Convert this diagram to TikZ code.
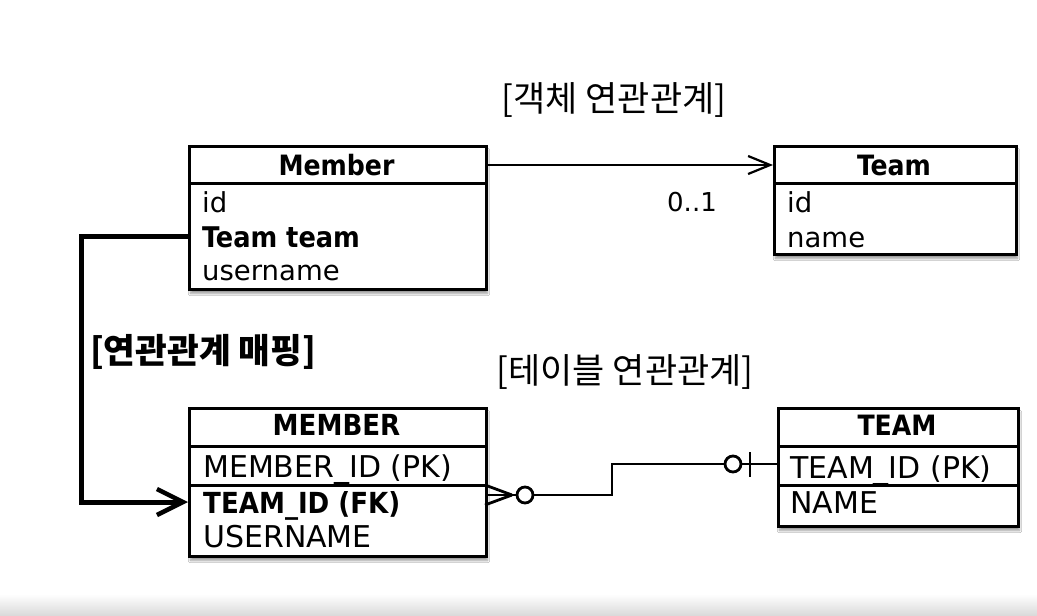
\documentclass[tikz,border=0pt]{standalone}
\usepackage{fontspec}
\setmainfont{DejaVu Sans}
\newfontfamily\cond{DejaVu Sans Condensed}
\newfontfamily\kr{Noto Sans CJK KR}
\usetikzlibrary{arrows.meta,shadows.blur}
\tikzset{
  tbl/.style={draw, line width=3pt, fill=white, anchor=north west, inner sep=0pt,
    blur shadow={shadow xshift=1pt, shadow yshift=-4pt, shadow blur steps=8, shadow opacity=40}},
  hdr/.style={font=\cond\bfseries\fontsize{28}{28}\selectfont, anchor=base, inner sep=0pt},
  rowA/.style={font=\fontsize{27.5}{27.5}\selectfont, anchor=base west, inner sep=0pt},
  rowB/.style={font=\fontsize{30}{30}\selectfont, anchor=base west, inner sep=0pt},
  divl/.style={line width=3pt},
  lbl/.style={font=\kr\fontsize{35}{35}\selectfont, inner sep=0pt},
  erd/.style={line width=2.8pt},
  ring/.style={circle, draw, line width=2.8pt, minimum size=16pt, inner sep=0pt, fill=white},
}
\begin{document}
\begin{tikzpicture}[x=1pt,y=-1pt]
\useasboundingbox (0,0) rectangle (1037,616);
\fill[white] (0,0) rectangle (1037,616);

% ---------- Member (object) ----------
\node[tbl, minimum width=297pt, minimum height=143pt] (Member) at (188,145) {};
\coordinate (MemberDiv) at (188,183);
\draw[divl] (MemberDiv) -- (MemberDiv -| Member.east);
\node[hdr] (MemberH) at (336.5,175) {Member};
\node[rowA] (Mid) at (202,212) {id};
\node[rowA, font=\cond\bfseries\fontsize{28.5}{28.5}\selectfont] (Mteam) at (202,247) {Team team};
\node[rowA] (Muser) at (202,280) {username};

% ---------- Team (object) ----------
\node[tbl, minimum width=242pt, minimum height=108pt] (Team) at (773,145) {};
\coordinate (TeamDiv) at (773,183);
\draw[divl] (TeamDiv) -- (TeamDiv -| Team.east);
\node[hdr] (TeamH) at (894,175) {Team};
\node[rowA] (Tid) at (787,212) {id};
\node[rowA] (Tname) at (787,247) {name};

% ---------- MEMBER (table) ----------
\node[tbl, minimum width=297pt, minimum height=148pt] (MEMBER) at (188,407) {};
\coordinate (MD1) at (188,446);
\coordinate (MD2) at (188,485);
\draw[divl] (MD1) -- (MD1 -| MEMBER.east);
\draw[divl] (MD2) -- (MD2 -| MEMBER.east);
\node[hdr, font=\cond\bfseries\fontsize{29}{29}\selectfont] (MEMBERH) at (336.5,435) {MEMBER};
\node[rowB] (MEid) at (203,477) {MEMBER\_ID (PK)};
\node[rowB, font=\cond\bfseries\fontsize{29}{29}\selectfont] (MEfk) at (203,513) {TEAM\_ID (FK)};
\node[rowB] (MEuser) at (203,547) {USERNAME};

% ---------- TEAM (table) ----------
\node[tbl, minimum width=240pt, minimum height=118pt] (TEAM) at (777,407) {};
\coordinate (TD1) at (777,446);
\coordinate (TD2) at (777,485);
\draw[divl] (TD1) -- (TD1 -| TEAM.east);
\draw[divl] (TD2) -- (TD2 -| TEAM.east);
\node[hdr] (TEAMH) at (897,435) {TEAM};
\node[rowB] (TEid) at (790,478) {TEAM\_ID (PK)};
\node[rowB] (TEname) at (790,513) {NAME};

% ---------- labels ----------
\node[lbl] (L1) at (614,100) {[객체 연관관계]};
\node[lbl, font=\kr\bfseries\fontsize{34.5}{34.5}\selectfont] (L2) at (203,352) {[연관관계 매핑]};
\node[lbl] (L3) at (625,372) {[테이블 연관관계]};
\node[font=\fontsize{26}{26}\selectfont, inner sep=0pt] (card) at (692,202) {0..1};

% ---------- object association arrow ----------
\coordinate (A1) at (485,165);
\draw[line width=2pt, -{Straight Barb[length=22pt,width=18pt,line width=2.2pt]}]
  (A1) -- (A1 -| Team.west);

% ---------- mapping arrow ----------
\coordinate (B1) at (188,236);
\coordinate (B2) at (188,502);
\draw[line width=5pt, line join=miter, -{Straight Barb[length=26pt,width=26pt,line width=4.5pt]}]
  (B1) -- (81,236) -- (81,502) -- (B2);

% ---------- ERD relation ----------
\coordinate (CF) at (512,495);
\node[ring] (R1) at (525,495) {};
\node[ring] (R2) at (733,464) {};
\coordinate (TEin) at (777,464);
\draw[erd] (485,485) -- (CF);
\draw[erd] (485,495) -- (R1.west);
\draw[erd] (485,505) -- (CF);
\draw[erd] (R1.east) -- (612,495) |- (R2.west);
\draw[erd] (R2.east) -- (TEin);
\draw[erd] (750,452) -- (750,477);

% bottom fade of the screenshot
\shade[top color=white, bottom color=black!15] (0,594) rectangle (1037,616);
\end{tikzpicture}
\end{document}
